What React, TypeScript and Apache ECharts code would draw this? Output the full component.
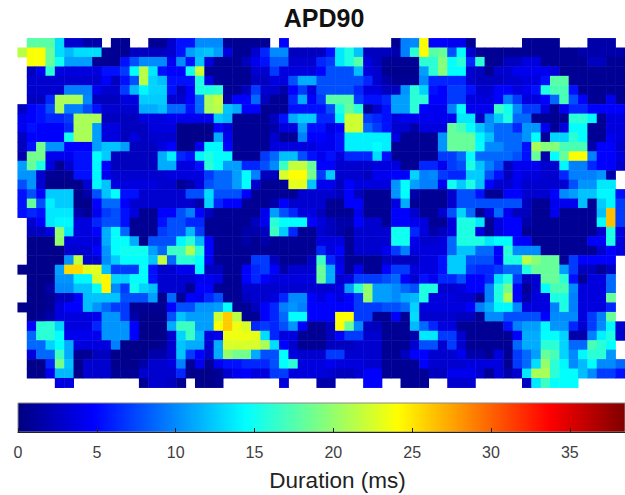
import React, { useEffect, useRef } from "react";
import * as echarts from "echarts";

const _ = null;
const titleText = "APD90";
const barLabel = "Duration (ms)";
const barMax = 38.5;
const jetColors = ["#00007f", "#0000ff", "#0080ff", "#00ffff", "#80ff80", "#ffff00", "#ff8000", "#ff0000", "#7f0000"];

const row00 = [_,17.8,17.8,17.8,13.2,3,3,1.6,1.6,_,.8,.8,_,_,.8,.8,3,5.4,5.4,10,10, 10,.8,.8,.8,.8,.8,_,4.8,_,_,_,_,_,_,_,_,_,_,_,.8,9.6,10, 23.9,4.8,4.8,4.2,4.2,.8,_,_,_,_,_,.8,.8,.8,.8,_,_,_,1.6,1.6,1.6,_];
const row01 = [21.4,23.9,23.9,18.3,13.2,11.8,13.2,13.2,13.2,.8,.8,.8,2.4,2.4,2.4,2.4,3,5.4,10.8,11.8,12.2, 10.8,3.6,.8,.8,3,6.2,10,10,2.4,2.4,2.4,2.4,5.4,13.6,15.5,12.2,2.4,2.4,2.4,1.6,9.6,16, 23.9,17.8,18.3,7.8,14.5,3,.8,.8,.8,.8,.8,.8,.8,.8,.8,.8,.8,1.6,1.6,1.6,1.6,1.6];
const row02 = [_,23.9,23.9,18.3,15,10.8,10.8,10.8,.8,.8,.8,5.4,7.8,10,10,10,4.2,10,5.4,12.2,3.6, .8,.8,.8,2.4,4.2,5.4,8.2,8.2,3,3,3,6.2,7,13.6,15.5,17.8,3.6,2.4,.8,.8,.8,.8, 16,16,19.5,14.5,16,6.2,16,.8,.8,2.4,2.4,3.6,3.6,.8,.8,.8,.8,.8,2.4,2.4,.8,.8];
const row03 = [_,2.4,4.2,16,3.6,3.6,3.6,3.6,3.6,5.4,5.4,7,14.5,21.4,13.6,5.4,4.8,4.8,15,22.2,.8, .8,.8,.8,.8,3,3,7,3.6,3.6,3.6,3.6,4.8,7.8,7.8,7.8,12,3.6,3,.6,.6,.6,.6, 10.8,16,19.5,14.5,14.5,3,2.4,.8,3,3,4.2,4.2,4.2,4.2,3.6,.8,.8,.8,.8,.8,.8,.8];
const row04 = [_,3,3,3,3,3,3,3,3,4.8,2.4,5.4,7.8,21.4,12.8,12,5.4,5.4,5.4,15.5,3.6, .8,.8,.8,.8,2.4,2.4,3.6,3.6,7.8,11.3,11.3,7.8,7.8,7.8,7.8,7.8,6.2,3,1.6,.8,.8,.8, 10,6.2,6.2,6.2,6.2,3,2.4,2.4,2.4,3,3,3.6,3.6,5.4,17.8,17.8,.8,.8,.8,.8,.8,.8];
const row05 = [_,3,3,3,3,9.6,9.6,9.6,4.2,3,3,7,11.8,14.2,12.8,12.8,5.4,2.4,4.8,15.5,15.5, 16,.8,.8,2.4,7,3,3,1.6,4.8,7,3.6,7.8,7.8,7.8,7.8,6.2,3.6,3.6,2.4,2.4,10.4,16, 12.8,5.4,4.8,7,7,5.4,3,3,4.8,4.8,3.6,4.2,5.4,15.5,17.2,17.2,5.4,.8,.8,.8,.8,.8];
const row06 = [_,2.4,2.4,6.2,20.8,20.8,20.8,10,2.4,2.4,2.4,3.6,3.6,12.5,12.5,12.5,3,3,4.8,8.7,20.8, 21.8,1.6,4.8,4.8,8.7,2.4,.8,.8,6.2,11.3,4.8,7,17.8,17.8,17.8,7,5.4,5.4,6.2,10.8,10.8,16, 16,4.8,4.8,7,7,3.6,3.6,3.6,4.8,9.6,7,3.6,3.6,4.8,8.7,17.2,7.8,4.8,.8,.8,4.2,.8];
const row07 = [2.4,4.8,5.4,7.8,20.8,9.6,9.6,7.8,5.4,3,3,3,3,11.3,11.3,12,8.7,8.7,5.4,8.7,20.8, 21.4,12.2,11.3,4.8,4.8,.8,.8,.8,5.4,5.4,5.4,5.4,7.8,15.5,18.3,16,.8,3,5.4,10.8,10.8,16, 4.8,4.2,4.2,9.6,14.5,4.2,4.2,4.2,16.7,15,10,7,7,3.6,.8,4.2,6.2,6.2,4.8,4.8,4.8,4.8];
const row08 = [4.2,4.8,5.4,6.2,6.2,7,20.8,20.8,20.8,2.4,2.4,2.4,2.4,3.6,3.6,3.6,4.2,4.2,4.2,4.2,4.2, 12.5,11.8,.8,.8,.8,.8,2.4,5.4,11.3,12.5,12.5,6.2,6.2,14.2,22.2,22.2,7,6.2,5.4,3.6,4.2,4.2, 4.2,4.2,4.2,4.2,13.6,13.6,2.4,10,12.5,15.5,8.7,8.7,.8,.8,.8,.8,16,16,14.2,.8,3.6,3.6];
const row09 = [4.2,5.4,4.8,4.8,4.8,6.2,20.8,20.8,10.8,3.6,3.6,2.4,2.4,2.4,3.6,3.6,3.6,.4,.4,.4,.4, 4.8,3.6,.8,.8,.8,.8,1.6,3.6,3.6,10.8,5.4,5.4,3.6,4.8,22.2,22.2,8.7,7,5.4,3,3,1.6, 3.6,3.6,3.6,18.3,17.2,14.5,12.2,10.4,8.7,8.7,6.2,10.4,10.4,4.2,.8,3.6,14.5,14.5,.8,.8,3.6,3.6];
const row10 = [2.4,4.8,4.8,4.8,4.8,15,20.8,20.8,10.8,3.6,3.6,2.4,3.6,2.4,3,3,3,.4,.4,.4,.4, 11.3,4.2,.8,.8,.8,.8,3,.8,.8,9.6,4.8,4.8,4.2,5.4,13.9,13.9,13.9,13.9,13.9,3.6,.8,.8, .8,.8,10.4,18.3,18.3,18.3,14.2,12.2,8.7,8.7,8.7,10.4,14.5,.8,12.8,12.8,16,14.5,.8,.8,4.2,3.6];
const row11 = [2.4,5.4,18.8,10.4,10.4,4.8,4.8,4.8,10.8,12.2,12.2,10.8,2.4,2.4,2.4,3.6,4.8,.4,.4,4.2,14.2, 14.2,4.8,.8,.8,.8,.8,3.6,3.6,3.6,3.6,3.6,4.2,4.2,5.4,13.9,13.9,13.9,14.5,13.9,.8,.8,.8, .8,.8,10.4,18.3,18.3,18.3,14.5,10,10,8.7,8.7,5.4,20.8,19.5,19.5,17.2,17.2,17.2,1.6,4.8,4.8,3];
const row12 = [1.6,18.8,18.8,4.2,4.2,4.2,5.4,5.4,14.5,12.5,2.4,2.4,2.4,2.4,2.4,11.3,13.9,6.2,5.4,14.2,15.5, 14.5,14.5,.8,.8,.8,7,8.7,12,12,7.8,5.4,4.2,5.4,3.6,6.2,6.2,6.2,13.2,5.4,.8,.8,.8, .8,.8,7,7,8.7,14.5,8.7,8.7,8.7,8.7,7.8,5.4,18.3,1.6,14.5,18.3,23.9,23.9,9.6,4.8,4.8,3.6];
const row13 = [10.8,18.3,15.5,3.6,.8,3,5.4,5.4,14.2,4.8,2.4,2.4,2.4,2.4,2.4,11.3,11.3,3.6,3.6,5.4,16, 14.5,10.8,10.8,6.2,6.2,7.8,10,16.7,21.8,21.8,18.3,4.8,4.8,3,3,3,3,3.6,3.6,3.6,.8,.8, 6.2,6.2,4.2,7,7.8,15.5,12.2,9.6,7.8,2.4,4.2,4.2,4.2,3,3,14.2,9.6,9.6,6.2,4.8,4.8,3];
const row14 = [10.4,10.4,3,.8,.8,.8,5.4,5.4,14.2,4.2,3,3,3,3,3,3,3.6,3.6,3.6,3.6,7, 8.7,8.7,10.8,14.5,9.6,2.4,2.4,22.6,24,24,18.8,7,12.5,3,3,3,2.4,4.2,4.2,4.8,4.8,12.8, 9.6,10,7,6.2,6.2,12.5,12.5,7.8,5.4,2.4,4.2,3.6,3.6,3,3,6.2,9.6,9.6,9.6,10.4,1.6,_];
const row15 = [7.8,10.4,3,.4,.4,.4,.4,3,14.2,12.2,3.6,3.6,3.6,3.6,3.6,3,3,.8,1.6,3.6,7.8, 8.7,8.7,10.8,14.5,3,.8,.8,.8,23,23,12.2,4.2,4.2,2.4,4.8,3.6,3.6,3.6,3.6,10.4,14.5,10.8, 9.6,9.6,4.2,15,12.5,15.5,12.2,4.8,3,3,4.2,3,3,3,3,3,7.8,10.4,10.4,13.6,13.6,_];
const row16 = [5.4,7.8,4.8,12.5,12.5,12.5,.4,1.6,7.8,12.2,14.5,5.4,5.4,3,3,3,3,3,7.8,7.8,13.2, 7.8,7.8,7.8,4.8,.8,.8,.8,.8,.8,3,3,3,3,2.4,4.8,2.4,.8,.8,.8,10.4,14.5,1.6, .8,.8,.8,3,7.8,7.8,5.4,.8,.8,4.8,4.8,3,3,3,4.8,10,10.8,12.2,12.2,14.2,14.2,5.4];
const row17 = [5.4,18.3,7.8,13.9,12.5,12.5,.4,.4,4.8,8.7,8.7,4.8,3,3,3,3,3,3,3,1.6,12.8, 6.2,4.8,4.8,.8,.8,.8,1.6,4.8,3,3,3,3,.8,.8,4.8,4.8,.8,.8,.8,3.6,11.3,.8, .8,.8,.8,3,7.8,7.8,7.8,7.8,7.8,7.8,7.8,2.4,.8,.8,4.2,4.2,4.2,12,.8,12.5,14.2,7];
const row18 = [5.4,6.2,5.4,13.6,13.6,13.6,1.6,.8,4.2,7,7.8,5.4,3.6,.8,.8,4.8,4.8,7.8,9.6,4.8,2.4, .8,.8,.8,.8,.8,4.2,10.8,7.8,6.2,3.6,3.6,2.4,.8,.8,.8,4.2,.8,.8,.8,4.8,4.8,3, .8,.8,3,7.8,12.8,8.7,.8,3.6,8.7,4.2,2.4,2.4,.8,.8,4.2,.8,.8,.8,.8,12,26.5,7];
const row19 = [_,3,4.8,13.6,14.2,14.2,3.6,3.6,6.2,7.8,7.8,5.4,.8,.8,.8,5.4,7.8,7.8,6.2,6.2,.8, .8,.8,.8,.8,2.4,4.2,16,14.5,14.5,14.5,4.8,3.6,2.4,1.6,1.6,4.8,3,3,.8,4.8,4.8,4.2, 3.6,.8,.8,3.6,15.5,15.5,13.6,.8,3.6,4.8,4.8,1.6,.8,.8,.8,.8,.8,.8,.8,14.5,26.5,7];
const row20 = [_,2.4,2.4,3.6,20,13.6,3.6,3.6,4.8,11.3,14.5,8.7,.8,.8,.8,7,7.8,7.8,11.8,7,.8, .8,.8,.8,1.6,1.6,2.4,16.7,12.5,6.2,.8,.8,3,2.4,1.6,.8,3,3,3,3,15,15,6.2, 3.6,1.6,2.4,3.6,15.5,15.5,3.6,.8,3.6,4.8,4.8,.8,.8,.8,.8,.8,.8,.8,.8,3,15.5,3.6];
const row21 = [_,.4,.4,.4,20,3.6,3.6,3.6,3.6,11.3,14.5,14.5,11.3,.4,7.8,7.8,7.8,14.2,16,11.8,4.8, .8,.8,.8,1.6,.8,1.6,.8,.8,.8,.8,.8,3.6,3.6,3.6,.8,3,3,3,3,15,15,4.2, 3,3,3.6,8.7,15.5,15.5,15.5,13.6,14.5,14.5,4.8,4.8,.8,.8,.8,.8,.8,.8,4.8,4.8,15.5,3.6];
const row22 = [_,.4,.4,.4,.4,3,3,3,4.8,10.4,14.5,15,15,15,10.8,8.7,16.7,16.7,21,16,4.8, .8,.8,.8,.8,.8,.8,.8,.8,.8,.8,.8,6.2,3.6,4.8,.8,3,3,3,4.2,7,9.6,3.6, 3.6,3.6,3.6,8.7,12.2,12.2,8.7,8.7,4.8,16,10,10,10,.8,.8,.8,.8,.8,.8,3,4.8,3.6];
const row23 = [_,.4,.4,.4,.4,10.4,21.8,3,3,10,12.5,14.5,14.5,14.5,12.2,21.8,8.7,16,16,14.5,4.2, .8,.8,.8,.8,7,7,2.4,.8,.8,.8,2.4,16.7,6.2,3.6,.8,.8,.8,.8,2.4,2.4,2.4,2.4, 3.6,3.6,5.4,12.5,12.5,7.8,7.8,7.8,4.8,15.5,15.5,21.4,19.5,18.3,18.3,.8,7,4.8,4.8,4.8,4.8,_];
const row24 = [.4,.4,.4,.4,10.8,25.5,25.5,23,23,12,7,7,7,14.5,5.4,3,3,4.2,4.2,14.2,2.4, 2.4,.8,.8,4.8,6.2,7,4.8,1.6,3,3,3,18.3,11.3,4.2,.8,4.2,.8,.8,4.8,7,7,3.6, 3.6,3.6,5.4,12.5,12.5,7,6.2,6.2,7,8.7,8.7,15.5,18.3,18.3,18.3,10.8,7,2.4,2.4,.8,2.4,_];
const row25 = [_,.4,.4,.4,10.4,10.4,14.2,14.2,22.6,24.4,12.8,12.8,14.5,14.5,5.4,3,3,3,3,4.2,4.2, 3.6,.8,.8,4.8,6.2,4.8,3.6,3.6,3.6,3.6,3.6,18.3,11.3,3,3.6,7,7,7,7.8,8.7,4.8,3, 5.4,4.2,6.2,6.2,7.8,4.8,4.8,6.2,13.2,15.5,7,2.4,3,18.3,18.3,16,5.4,.8,3.6,3.6,8.7,_];
const row26 = [_,.4,.4,1.6,10,10,12.2,12.2,14.5,24.4,10,7,15,12.8,12,3,3,3,.8,4.8,4.8, .8,.8,.8,3,3,3,3,3,3,3,3,3,3,3.6,10.8,16,20,10.8,10.8,10,8.7,7.8, 15.5,15.5,3,3,3.6,4.8,4.8,9.6,15.5,18.8,4.8,.8,3,14.5,17.2,17.2,10,3.6,3.6,3.6,8.7,_];
const row27 = [_,.4,.4,.8,2.4,2.4,4.8,12,12.2,12.2,12.2,7.8,7.8,7.8,10.8,.4,8.7,.8,4.8,4.2,6.2, 7.8,.8,.8,2.4,3,3,3.6,6.2,10,10,4.8,3.6,4.8,3.6,4.8,7,20,10.8,10.8,10,11.3,11.8, 15.5,3.6,3.6,3.6,3,3,.8,9.6,15.5,21,4.8,1.6,3.6,3.6,15.5,15.5,9.6,3.6,3.6,3.6,18.3,_];
const row28 = [.4,.4,.4,.8,3.6,4.8,4.8,12,10.4,8.7,7,7,.8,.8,.8,.8,4.8,7.8,7.8,10.4,10.4, 10.8,14.5,.8,.8,2.4,4.8,6.2,9.6,10.4,9.6,4.8,4.8,4.8,4.8,4.8,7,7,7,7.8,7.8,8.7,12.8, 3.6,3.6,3.6,3.6,3.6,4.8,9.6,11.3,14.2,14.2,10,3.6,3.6,3.6,9.6,15.5,9.6,3.6,3.6,3.6,6.2,_];
const row29 = [_,.4,.8,1.6,3.6,3.6,3.6,3.6,4.2,10.4,10.4,7,1.6,.4,.4,.4,7.8,12.2,10.8,10.8,10.8, 22.2,26,21.4,.8,.8,4.8,6.2,8.7,14.5,14.5,4.8,4.8,4.8,23.9,24,7,7,.8,.8,4.8,.8,13.2, 3,3,3,3,2.4,2.4,.8,10,10,7.8,7.8,7.8,7.8,4.8,10,10,10,3.6,7,9.6,18.3,_];
const row30 = [_,4.8,16,16,12.8,3.6,3.6,3.6,6.2,10.4,10.4,10.4,4.8,.4,.4,.4,11.3,16.7,16.7,10.8,10.8, 23.9,26,23.4,22.6,6.2,7,6.2,7.8,10.4,4.8,.8,.8,2.4,23.9,18.3,10,2.4,2.4,.8,.8,.8,11.8, 8.7,6.2,3.6,3.6,.8,.8,.8,.8,.8,5.4,9.6,10.8,10.8,14.2,10.4,10.4,6.2,3,7,10,14.2,3];
const row31 = [_,8.7,16,16,14.5,4.2,4.2,4.2,4.2,10.4,10.4,10.4,4.8,.4,.4,.4,3,12.8,16.7,11.8,3.6, 4.2,23.4,23.4,23.4,23,13.2,6.2,3.6,3.6,.8,.8,.8,2.4,4.8,7,7,3,3,.8,.8,.8,1.6, 13.6,13.6,7,7,3,.8,.8,.8,.8,.8,4.8,11.3,11.3,14.5,14.5,12.8,1.6,1.6,9.6,13.9,15.5,3];
const row32 = [_,8.7,8.7,12.8,14.5,11.3,3.6,3.6,3.6,3.6,9.6,.4,.4,.4,.4,.8,3,12.2,11.3,11.3,3, 11.3,22.6,22.6,22.6,22.6,20.8,13.2,4.8,3,.8,.8,.8,2.4,2.4,2.4,3,3,3,.8,.8,.8,3, 7.8,7.8,3,7,3,.8,.8,.8,.8,.8,8.7,11.3,11.3,16,16,12.8,8.7,8.7,17.2,16,14.5,_];
const row33 = [_,3.6,8.7,8.7,16.7,11.3,.8,.8,2.4,2.4,.4,.4,.4,.4,1.6,1.6,3,12.2,7,4.8,3, 11.3,20,18.8,18.8,11.3,7.8,7.8,14.5,3.6,3,3,3,7,7,3,3,3,3,.8,.8,2.4,4.8, 4.8,3,3,3,4.2,1.6,1.6,.8,3.6,.8,7,8.7,10.8,18.3,17.2,12.8,10,14.2,16,16,10.4,_];
const row34 = [_,.4,.4,6.2,18.8,12.2,.4,3,3,3,.5,.5,.5,1.6,3,3,3.6,9.6,.8,4.2,.8, 4.2,5.4,5.4,6.2,6.2,6.2,7.8,14.5,16,3.6,3.6,3.6,4.2,3.6,3.6,3.6,3,3,.8,.8,.8,.8, 4.8,3,3,3,3,3.6,3.6,3.6,3.6,.8,7,8.7,13.2,20,16,14.2,10,11.8,14.5,10,10,8.7];
const row35 = [_,.4,.4,4.2,11.8,11.8,.4,3,3,3,.8,.8,.8,3,3,3,3,6.2,.4,.4,.4, .8,3,4.2,4.8,3.6,3.6,7,7,3.6,3.6,3.6,3.6,3,2.4,2.4,3,4.8,4.8,.8,.8,.8,.8, .8,2.4,2.4,4.2,4.2,4.2,3,.8,3.6,1.6,3,13.6,20.8,20.8,16,14.5,14.5,12,10,7,7,5.4];
const row36 = [_,_,_,_,3.6,3.6,_,_,_,_,_,_,_,.8,3,3,2.4,.8,_,.4,.4, .8,_,_,_,_,_,_,3.6,_,_,_,1.6,1.6,_,_,_,4.8,4.8,_,_,.8,.8, .8,_,_,3,3,3,_,_,_,_,_,2.4,13.6,16.7,14.5,14.5,14.5,_,_,_,_,_];

const rows = [row00,row01,row02,row03,row04,row05,row06,row07,row08,row09,row10,row11,row12,row13,row14,row15,row16,row17,row18,row19,row20,row21,row22,row23,row24,row25,row26,row27,row28,row29,row30,row31,row32,row33,row34,row35,row36];
const columnCount = 65;
const xCategories = Array.from({ length: columnCount }, (_v, i) => String(i));
const yCategories = rows.map((_v, i) => String(i));
const cells: [number, number, number][] = [];
rows.forEach((row, r) => row.forEach((v, c) => { if (v !== null) cells.push([c, r, v as number]); }));

export default function App() {
  const ref = useRef<HTMLDivElement>(null);
  useEffect(() => {
    document.body.style.margin = "0";
    const chart = echarts.init(ref.current!, null, { renderer: "svg" });
    chart.setOption({
      animation: false,
      backgroundColor: "#ffffff",
      title: {
        text: titleText,
        left: 319,
        top: 0,
        textAlign: "center",
        textStyle: { fontFamily: "Liberation Sans", fontSize: 25, fontWeight: "bold", color: "#111111" },
      },
      grid: [
        { left: 17.7, top: 38.3, width: 613, height: 349.4, containLabel: false },
        {
          left: 18, top: 403, width: 608, height: 29, show: true, borderColor: "#8a8a8a", borderWidth: 1,
          backgroundColor: new echarts.graphic.LinearGradient(0, 0, 1, 0,
            jetColors.map((color, i) => ({ offset: i / (jetColors.length - 1), color }))),
        },
      ],
      xAxis: [
        { type: "category", gridIndex: 0, data: xCategories, show: false },
        {
          type: "value", gridIndex: 1, min: 0, max: barMax, interval: 5, position: "bottom",
          splitLine: { show: false },
          axisLine: { show: true, lineStyle: { color: "#222222", width: 1 } },
          axisTick: { show: true, inside: true, length: 4, lineStyle: { color: "#222222" } },
          axisLabel: { show: true, margin: 12, fontFamily: "Liberation Sans", fontSize: 16, color: "#404040", showMaxLabel: false },
          name: barLabel,
          nameLocation: "middle",
          nameGap: 37,
          nameTextStyle: { fontFamily: "Liberation Sans", fontSize: 22.5, color: "#222222", padding: [0, 0, 0, 32] },
        },
      ],
      yAxis: [
        { type: "category", gridIndex: 0, data: yCategories, inverse: true, show: false },
        { type: "value", gridIndex: 1, min: 0, max: 1, show: false },
      ],
      visualMap: {
        show: false,
        type: "continuous",
        min: 0,
        max: barMax,
        seriesIndex: 0,
        dimension: 2,
        inRange: { color: jetColors },
      },
      series: [
        {
          type: "heatmap",
          xAxisIndex: 0,
          yAxisIndex: 0,
          data: cells,
          progressive: 0,
          itemStyle: { borderWidth: 0 },
          emphasis: { disabled: true },
        },
        { type: "line", xAxisIndex: 1, yAxisIndex: 1, data: [], silent: true },
      ],
    });
    return () => chart.dispose();
  }, []);
  return <div ref={ref} style={{ position: "fixed", left: 0, top: 0, width: 625, height: 495 }} />;
}
